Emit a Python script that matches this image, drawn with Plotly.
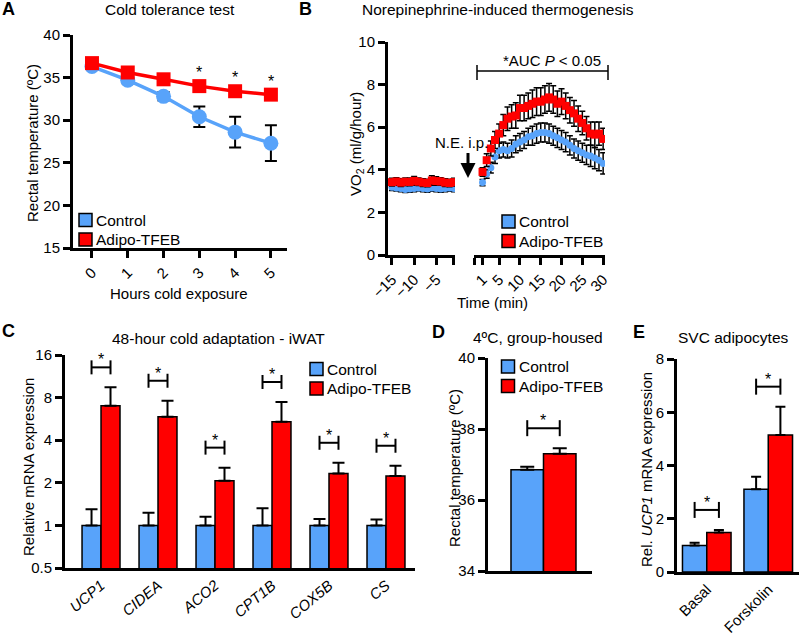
import math
import plotly.graph_objects as go

W, H = 800, 635
BLUE = "#58A3FA"
RED = "#FF0000"
FONT = "Liberation Sans, Arial, Helvetica, sans-serif"

# ---------------- data ----------------
# Panel A: cold tolerance test
hours = [0, 1, 2, 3, 4, 5]
a_ctrl = [36.3, 34.7, 32.8, 30.4, 28.6, 27.3]
a_ctrl_err = [0.3, 0.4, 0.5, 1.2, 1.8, 2.1]
a_tfeb = [36.7, 35.6, 34.8, 34.0, 33.4, 33.0]
a_tfeb_err = [0.2, 0.3, 0.3, 0.4, 0.4, 0.4]
a_sig_hours = [3, 4, 5]

# Panel B: norepinephrine-induced thermogenesis (VO2)
b_time_pre = [-15, -14, -13, -12, -11, -10, -9, -8, -7, -6, -5, -4, -3, -2, -1]
b_ctrl_pre = [3.18, 3.15, 3.12, 3.08, 3.10, 3.12, 3.15, 3.12, 3.10, 3.14, 3.12, 3.10, 3.12, 3.14, 3.12]
b_ctrl_pre_err = [0.15, 0.15, 0.15, 0.15, 0.15, 0.15, 0.15, 0.15, 0.15, 0.15, 0.15, 0.15, 0.15, 0.15, 0.15]
b_tfeb_pre = [3.42, 3.45, 3.40, 3.44, 3.43, 3.48, 3.44, 3.40, 3.38, 3.50, 3.47, 3.45, 3.40, 3.38, 3.42]
b_tfeb_pre_err = [0.18, 0.18, 0.18, 0.18, 0.18, 0.2, 0.18, 0.18, 0.18, 0.22, 0.2, 0.18, 0.18, 0.18, 0.18]
b_time_post = list(range(1, 31))
b_ctrl_post = [3.4, 3.8, 4.1, 4.6, 4.9, 4.95, 4.9, 5.0, 5.2, 5.3, 5.4, 5.55, 5.6, 5.7, 5.75,
               5.75, 5.7, 5.6, 5.5, 5.4, 5.3, 5.15, 5.0, 4.9, 4.8, 4.7, 4.65, 4.55, 4.45, 4.3]
b_ctrl_post_err = [0.15, 0.2, 0.25, 0.3, 0.35, 0.35, 0.35, 0.4, 0.4, 0.4, 0.4, 0.4, 0.45, 0.45, 0.45,
                   0.45, 0.45, 0.45, 0.45, 0.45, 0.45, 0.45, 0.45, 0.45, 0.45, 0.45, 0.5, 0.5, 0.5, 0.5]
b_tfeb_post = [3.9, 4.45, 5.0, 5.4, 5.7, 6.1, 6.4, 6.5, 6.55, 6.9, 6.9, 7.0, 7.1, 7.2, 7.2,
               7.3, 7.4, 7.3, 7.1, 7.2, 7.0, 6.8, 6.65, 6.4, 6.2, 5.95, 5.7, 5.65, 5.7, 5.45]
b_tfeb_post_err = [0.2, 0.3, 0.35, 0.4, 0.45, 0.5, 0.55, 0.55, 0.6, 0.6, 0.6, 0.6, 0.65, 0.65, 0.65,
                   0.65, 0.65, 0.65, 0.6, 0.6, 0.6, 0.6, 0.6, 0.6, 0.55, 0.55, 0.55, 0.6, 0.55, 0.5]
b_pre_ticks = [-15, -10, -5, -1]
b_pre_ticklabels = ["\u221215", "\u221210", "\u22125", " "]
b_post_ticks = [-1, 1, 5, 10, 15, 20, 25, 30]
b_post_ticklabels = [" ", "1", "5", "10", "15", "20", "25", "30"]

# Panel C: 48-hour cold adaptation - iWAT
genes = ["UCP1", "CIDEA", "ACO2", "CPT1B", "COX5B", "CS"]
c_ctrl = [1.0, 1.0, 1.0, 1.0, 1.0, 1.0]
c_ctrl_err = [0.30, 0.23, 0.15, 0.32, 0.11, 0.10]
c_tfeb = [7.0, 5.86, 2.07, 5.41, 2.33, 2.23]
c_tfeb_err = [2.45, 1.74, 0.49, 2.04, 0.44, 0.41]
c_ticks = [0.5, 1, 2, 4, 8, 16]

# Panel D: 4ºC, group-housed
d_ctrl = [36.85]
d_ctrl_err = [0.09]
d_tfeb = [37.3]
d_tfeb_err = [0.16]

# Panel E: SVC adipocytes
conditions = ["Basal", "Forskolin"]
e_ctrl = [1.0, 3.11]
e_ctrl_err = [0.1, 0.47]
e_tfeb = [1.48, 5.15]
e_tfeb_err = [0.1, 1.06]

series_names = ["Control", "Adipo-TFEB"]
series_colors = [BLUE, RED]


def px(p):
    return p / W


def py(p):
    return 1 - p / H


fig = go.Figure()

# ---------------- Panel A ----------------
fig.add_trace(go.Scatter(
    x=hours, y=a_ctrl, mode="lines+markers", name="Control",
    line=dict(color=BLUE, width=3.5),
    marker=dict(symbol="circle", size=15, color=BLUE),
    error_y=dict(type="data", array=a_ctrl_err, color="black", thickness=2, width=6),
    xaxis="x", yaxis="y"))
fig.add_trace(go.Scatter(
    x=hours, y=a_tfeb, mode="lines+markers", name="Adipo-TFEB",
    line=dict(color=RED, width=3.5),
    marker=dict(symbol="square", size=14, color=RED),
    error_y=dict(type="data", array=a_tfeb_err, color="black", thickness=2, width=6),
    xaxis="x", yaxis="y"))

# ---------------- Panel B ----------------
eb = dict(type="data", color="black", thickness=1.5, width=3)
fig.add_trace(go.Scatter(x=b_time_pre, y=b_ctrl_pre, mode="markers",
                         marker=dict(symbol="circle", size=7, color=BLUE),
                         error_y=dict(eb, array=b_ctrl_pre_err), xaxis="x2", yaxis="y2"))
fig.add_trace(go.Scatter(x=b_time_pre, y=b_tfeb_pre, mode="markers",
                         marker=dict(symbol="square", size=8, color=RED),
                         error_y=dict(eb, array=b_tfeb_pre_err), xaxis="x2", yaxis="y2"))
fig.add_trace(go.Scatter(x=b_time_post, y=b_ctrl_post, mode="markers",
                         marker=dict(symbol="circle", size=7, color=BLUE),
                         error_y=dict(eb, array=b_ctrl_post_err), xaxis="x3", yaxis="y2"))
fig.add_trace(go.Scatter(x=b_time_post, y=b_tfeb_post, mode="markers",
                         marker=dict(symbol="square", size=8, color=RED),
                         error_y=dict(eb, array=b_tfeb_post_err), xaxis="x3", yaxis="y2"))


# ---------------- bar panels ----------------
def add_bars(xs, ctrl, ctrl_err, tfeb, tfeb_err, w, xa, ya, capw):
    n = len(xs)
    for vals, errs, col, off in [(ctrl, ctrl_err, BLUE, -w), (tfeb, tfeb_err, RED, 0)]:
        fig.add_trace(go.Bar(
            x=xs, y=vals, width=w, offset=off,
            marker=dict(color=col, line=dict(color="black", width=1.5)),
            error_y=dict(type="data", array=errs, arrayminus=[0] * n, symmetric=False,
                         color="black", thickness=2, width=capw),
            xaxis=xa, yaxis=ya))


wC, wD, wE = 0.333, 0.4, 0.395
add_bars(list(range(len(genes))), c_ctrl, c_ctrl_err, c_tfeb, c_tfeb_err, wC, "x4", "y4", 6)
add_bars([0], d_ctrl, d_ctrl_err, d_tfeb, d_tfeb_err, wD, "x5", "y5", 7)
add_bars(list(range(len(conditions))), e_ctrl, e_ctrl_err, e_tfeb, e_tfeb_err, wE, "x6", "y6", 5)

shapes = []
annotations = []


def bracket(xa, xb, top, xref, yref, log=False, gap=20, half=8):
    ln = dict(color="black", width=2)
    shapes.append(dict(type="line", xref=xref, yref=yref, x0=xa, x1=xb,
                       ysizemode="pixel", yanchor=top, y0=gap, y1=gap, line=ln))
    for xx in (xa, xb):
        shapes.append(dict(type="line", xref=xref, yref=yref, x0=xx, x1=xx,
                           ysizemode="pixel", yanchor=top, y0=gap - half, y1=gap + half, line=ln))
    annotations.append(dict(x=(xa + xb) / 2, y=math.log10(top) if log else top, xref=xref, yref=yref,
                            text="*", showarrow=False, yanchor="bottom", yshift=gap - 3,
                            font=dict(size=16)))


for i in range(len(genes)):
    top = max(c_ctrl[i] + c_ctrl_err[i], c_tfeb[i] + c_tfeb_err[i])
    bracket(i - wC / 2, i + wC / 2, top, "x4", "y4", log=True, half=7)
bracket(-wD / 2, wD / 2, max(d_ctrl[0] + d_ctrl_err[0], d_tfeb[0] + d_tfeb_err[0]), "x5", "y5", half=8)
for i in range(len(conditions)):
    top = max(e_ctrl[i] + e_ctrl_err[i], e_tfeb[i] + e_tfeb_err[i])
    bracket(i - wE / 2, i + wE / 2, top, "x6", "y6", half=8)

# asterisks panel A
for h in a_sig_hours:
    annotations.append(dict(x=h, y=a_tfeb[hours.index(h)], xref="x", yref="y", text="*",
                            showarrow=False, yanchor="bottom", yshift=3, font=dict(size=16)))

# AUC bracket panel B
ln = dict(color="black", width=1.5)
shapes.append(dict(type="line", xref="paper", yref="paper", x0=px(477), x1=px(608), y0=py(71), y1=py(71), line=ln))
for xx in (477, 608):
    shapes.append(dict(type="line", xref="paper", yref="paper", x0=px(xx), x1=px(xx), y0=py(65), y1=py(80), line=ln))
annotations.append(dict(x=px(552), y=py(61), xref="paper", yref="paper", text="*AUC <i>P</i> &lt; 0.05",
                        showarrow=False, xanchor="center", yanchor="middle", font=dict(size=15)))
annotations.append(dict(x=px(461), y=py(142), xref="paper", yref="paper", text="N.E. i.p.",
                        showarrow=False, xanchor="center", yanchor="middle", font=dict(size=15)))
annotations.append(dict(x=px(468), y=py(178), xref="paper", yref="paper", text=" ", showarrow=True,
                        ax=0, ay=-27, arrowhead=2, arrowsize=1, arrowwidth=3, arrowcolor="black",
                        font=dict(size=1)))


# legends (manual)
def legend(x0, yc0, step=19.5):
    for k, (nm, col) in enumerate(zip(series_names, series_colors)):
        yc = yc0 + k * step
        shapes.append(dict(type="rect", xref="paper", yref="paper", x0=px(x0), x1=px(x0 + 13),
                           y0=py(yc - 6.5), y1=py(yc + 6.5), fillcolor=col,
                           line=dict(color="black", width=1.5)))
        annotations.append(dict(x=px(x0 + 15), y=py(yc), xref="paper", yref="paper", text=nm,
                                showarrow=False, xanchor="left", yanchor="middle", font=dict(size=15.5)))


legend(79, 220)
legend(502, 221.5)
legend(310, 369)
legend(501.5, 366.5)


# titles, panel letters, axis titles
def text(x, y, t, size=15, bold=False, angle=0):
    annotations.append(dict(x=px(x), y=py(y), xref="paper", yref="paper",
                            text=f"<b>{t}</b>" if bold else t, showarrow=False,
                            xanchor="center", yanchor="middle", textangle=angle,
                            font=dict(size=size)))


text(8, 9, "A", 18, True)
text(170, 9, "Cold tolerance test", 15.5)
text(305, 9, "B", 18, True)
text(498, 9, "Norepinephrine-induced thermogenesis", 15.5)
text(8, 331, "C", 18, True)
text(218, 338, "48-hour cold adaptation - iWAT", 15.5)
text(438, 332, "D", 18, True)
text(538, 337, "4ºC, group-housed", 15.5)
text(639, 332, "E", 18, True)
text(733, 337, "SVC adipocytes", 15.5)

text(33, 143, "Rectal temperature (ºC)", angle=-90)
text(179, 293, "Hours cold exposure")
text(356, 144, "VO<sub>2</sub> (ml/g/hour)", angle=-90)
text(492, 302, "Time (min)")
text(28, 467, "Relative mRNA expression", angle=-90)
text(454, 468, "Rectal temperature (ºC)", angle=-90)
text(646, 470, "Rel. <i>UCP1</i> mRNA expression", angle=-90)

common = dict(showline=True, linecolor="black", linewidth=3, ticks="outside", ticklen=7,
              tickwidth=3, tickcolor="black", showgrid=False, zeroline=False, automargin=False,
              tickfont=dict(size=15, color="black"), fixedrange=True)
noticks = dict(common, ticks="")

fig.update_layout(
    width=W, height=H, margin=dict(l=0, r=0, t=0, b=0, autoexpand=False),
    paper_bgcolor="white", plot_bgcolor="white",
    font=dict(family=FONT, size=15, color="black"),
    showlegend=False, barmode="overlay",
    xaxis=dict(common, domain=[px(73), px(287)], range=[-0.53, 5.45], anchor="y",
               tickvals=hours, tickangle=-45),
    yaxis=dict(common, domain=[py(248), py(35)], range=[15, 40], anchor="x",
               tickvals=[15, 20, 25, 30, 35, 40]),
    xaxis2=dict(common, domain=[px(388), px(455)], range=[-15.9, -0.77], anchor="y2",
                tickvals=b_pre_ticks, ticktext=b_pre_ticklabels, tickangle=-45),
    xaxis3=dict(common, domain=[px(474), px(605)], range=[-1.05, 30.45], anchor="y2",
                tickvals=b_post_ticks, ticktext=b_post_ticklabels, tickangle=-45),
    yaxis2=dict(common, domain=[py(255), py(42)], range=[0, 10], anchor="x2",
                tickvals=[0, 2, 4, 6, 8, 10]),
    xaxis4=dict(noticks, domain=[px(65), px(415)], range=[-0.632, 5.509], anchor="y4",
                tickvals=list(range(len(genes))), ticktext=[f"<i>{g}</i>" for g in genes],
                tickangle=-40),
    yaxis4=dict(common, domain=[py(568), py(355)], type="log",
                range=[math.log10(0.5), math.log10(16)], anchor="x4",
                tickvals=c_ticks, ticktext=[str(t) for t in c_ticks]),
    xaxis5=dict(noticks, domain=[px(488), px(592)], range=[-0.683, 0.597], anchor="y5",
                showticklabels=False),
    yaxis5=dict(common, domain=[py(571), py(358)], range=[34, 40], anchor="x5",
                tickvals=[34, 36, 38, 40]),
    xaxis6=dict(noticks, domain=[px(677), px(799)], range=[-0.484, 1.5], anchor="y6",
                tickvals=list(range(len(conditions))), ticktext=conditions, tickangle=-45),
    yaxis6=dict(common, domain=[py(572), py(359)], range=[0, 8], anchor="x6",
                tickvals=[0, 2, 4, 6, 8]),
    shapes=shapes, annotations=annotations,
)

fig.write_html("out.html", config={"displayModeBar": False},
               post_script="document.body.style.margin='0px';")
